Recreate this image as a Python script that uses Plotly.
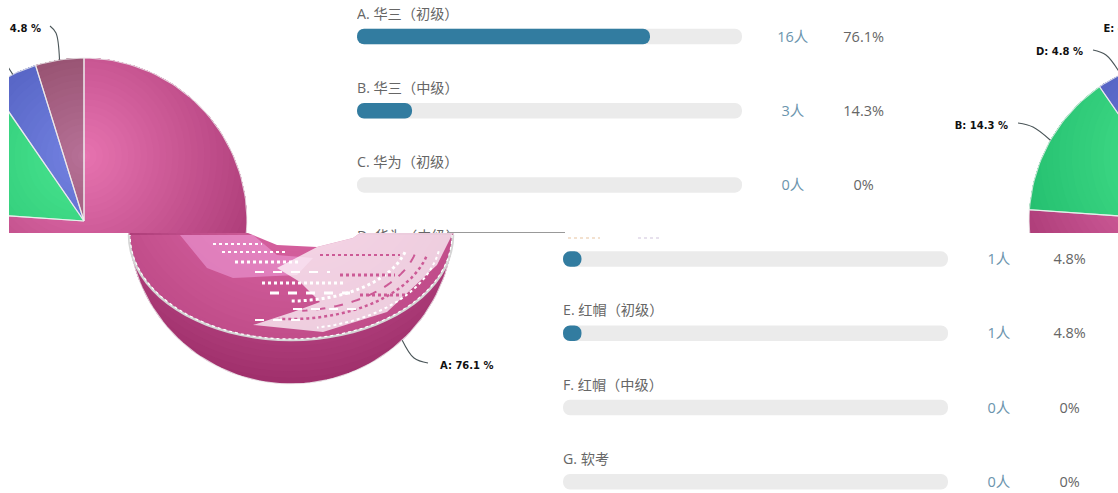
import math
import plotly.graph_objects as go

# ---- data ----
slice_names = ["A", "B", "D", "E"]
slice_values = [76.1, 14.3, 4.8, 4.8]
slice_center_colors = ["#e874b1", "#4be690", "#7584e3", "#b87298"]
slice_edge_colors = ["#a0306c", "#19b466", "#3946a7", "#722f47"]

row_letters = ["A", "B", "C", "D", "E", "F", "G"]
row_names = ["华三（初级）", "华三（中级）", "华为（初级）", "华为（中级）", "红帽（初级）", "红帽（中级）", "软考"]
row_counts = [16, 3, 0, 1, 1, 0, 0]
row_percents = [76.1, 14.3, 0, 4.8, 4.8, 0, 0]

# ---- page geometry (pixels) ----
W, H, BAND = 1118, 493, 233
PIE_X, PIE_Y, PIE_R = 291, 221, 163
GRAD_X, GRAD_Y, GRAD_R = 291, 156, 228
ROW_Y0, ROW_STEP = 36.5, 74.2
BAR_PX = 3.85
BAR_H = 15.5

# connector bends and label anchors, relative to the page before the wrap
label_mid = [(414, 358), (132, 127), (205, 55), (263, 33)]
label_end = [(428, 363), (117, 123), (192, 50), (257, 26)]
label_pos = [(440, 366), (107, 126), (182, 52), (248, 29)]
label_side = ["middle right", "middle left", "middle left", "middle left"]

fig = go.Figure()
layout = {}


def add_axes(n, sx0, sx1, sy0, sy1, xr, yr):
    sfx = "" if n == 1 else str(n)
    layout[f"xaxis{sfx}"] = dict(domain=[sx0 / W, sx1 / W], range=xr, visible=False,
                                 fixedrange=True, anchor=f"y{sfx}")
    layout[f"yaxis{sfx}"] = dict(domain=[1 - sy1 / H, 1 - sy0 / H], range=yr, visible=False,
                                 fixedrange=True, anchor=f"x{sfx}")


# three views of the same page: shifted top band, its wrapped end, and the bottom band
pie_panels = [
    (1, 9, 901, 0, BAND, [216, 1108], [BAND, 0]),
    (2, 901, W, 0, BAND, [0, 217], [BAND, 0]),
    (3, 0, W, BAND, H, [0, W], [H, BAND]),
]
for p in pie_panels:
    add_axes(*p)


def pt(a, r=PIE_R):
    t = math.radians(a)
    return (PIE_X + r * math.sin(t), PIE_Y - r * math.cos(t))


def sector(a0, a1):
    n = max(3, int((a1 - a0) / 2))
    return [(PIE_X, PIE_Y)] + [pt(a0 + (a1 - a0) * i / n) for i in range(n + 1)]


def clip(subject, poly):
    area = sum(poly[i][0] * poly[(i + 1) % len(poly)][1] - poly[(i + 1) % len(poly)][0] * poly[i][1]
               for i in range(len(poly)))
    sgn = 1 if area > 0 else -1
    out = subject
    for i in range(len(poly)):
        ax, ay = poly[i]
        bx, by = poly[(i + 1) % len(poly)]
        if abs(ax - bx) + abs(ay - by) < 1e-9:
            continue
        side = lambda q: sgn * ((bx - ax) * (q[1] - ay) - (by - ay) * (q[0] - ax))
        res = []
        for j in range(len(out)):
            c, d = out[j], out[(j + 1) % len(out)]
            sc, sd = side(c), side(d)
            if sc >= 0:
                res.append(c)
            if (sc >= 0) != (sd >= 0):
                u = sc / (sc - sd)
                res.append((c[0] + u * (d[0] - c[0]), c[1] + u * (d[1] - c[1])))
        out = res
        if not out:
            break
    return out


def mix(c0, c1, t):
    a = [int(c0[i:i + 2], 16) for i in (1, 3, 5)]
    b = [int(c1[i:i + 2], 16) for i in (1, 3, 5)]
    return "rgb(%d,%d,%d)" % tuple(round(a[i] + (b[i] - a[i]) * t) for i in range(3))


# slice angles from the values
total = sum(slice_values)
angles = []
acc = 0
for v in slice_values:
    angles.append((acc / total * 360, (acc + v) / total * 360))
    acc += v

# ring polygons per slice: one radial gradient shared by the whole pie
STEPS = 36
slice_layers = []
for k, (a0, a1) in enumerate(angles):
    parts = []
    nparts = math.ceil((a1 - a0) / 170)
    for i in range(nparts):
        s0 = a0 + (a1 - a0) * i / nparts
        s1 = a0 + (a1 - a0) * (i + 1) / nparts
        parts.append(sector(max(a0, s0 - 0.3), s1))
    outline = sector(a0, a1)
    layers = []
    for s in range(STEPS, -1, -1):
        t = s / STEPS
        color = mix(slice_center_colors[k], slice_edge_colors[k], t)
        lx, ly = [], []
        for part in parts:
            if s == STEPS:
                poly = part
            else:
                rt = max(t, 0.015)
                ell = [(GRAD_X + GRAD_R * rt * math.cos(i * math.pi / 40),
                        GRAD_Y + GRAD_R * rt * math.sin(i * math.pi / 40)) for i in range(80)]
                poly = clip(ell, part)
            if poly:
                lx += [q[0] for q in poly] + [poly[0][0], None]
                ly += [q[1] for q in poly] + [poly[0][1], None]
        if lx:
            layers.append((lx, ly, color))
    slice_layers.append((layers, outline))

for p in pie_panels:
    n = "" if p[0] == 1 else str(p[0])
    ax = dict(xaxis=f"x{n}", yaxis=f"y{n}", hoverinfo="skip", showlegend=False)
    for layers, outline in slice_layers:
        for lx, ly, color in layers:
            fig.add_trace(go.Scatter(x=lx, y=ly, mode="lines", fill="toself", fillcolor=color,
                                     line=dict(width=0), **ax))
    for layers, outline in slice_layers:
        fig.add_trace(go.Scatter(x=[q[0] for q in outline] + [outline[0][0]],
                                 y=[q[1] for q in outline] + [outline[0][1]], mode="lines",
                                 line=dict(color="rgba(240,240,240,0.8)", width=1.2), **ax))
    for k, name in enumerate(slice_names):
        a0, a1 = angles[k]
        e = pt((a0 + a1) / 2)
        fig.add_trace(go.Scatter(x=[e[0], label_mid[k][0], label_end[k][0]],
                                 y=[e[1], label_mid[k][1], label_end[k][1]], mode="lines",
                                 line=dict(color="#4a5558", width=1.1, shape="spline"), **ax))
        fig.add_trace(go.Scatter(x=[label_pos[k][0]], y=[label_pos[k][1]], mode="text",
                                 text=[f"{name}: {slice_values[k]} %"], textposition=label_side[k],
                                 textfont=dict(family="DejaVu Sans", size=10, color="#111111", weight="bold"),
                                 **ax))

# bar panels: one axis pair for each band, percent on x, row number on y
def row_y(py):
    return (py - ROW_Y0) / ROW_STEP


add_axes(4, 357, 357 + 150 * BAR_PX, 0, BAND, [0, 150], [row_y(BAND), row_y(0)])
add_axes(5, 563, W, BAND, H, [0, (W - 563) / BAR_PX], [row_y(H), row_y(BAND)])


def round_bar(values, ys, color, ax):
    # a non-zero base makes plotly round both ends of the bar
    eps = 0.01
    fig.add_trace(go.Bar(x=[v - eps for v in values], base=[eps] * len(values), y=ys, orientation="h",
                         width=BAR_H / ROW_STEP,
                         marker=dict(color=color, cornerradius=8, line=dict(width=0)), **ax))


rows = list(range(len(row_letters)))
filled = [r for r in rows if row_percents[r] > 0]
TEXT_DY = 1.5 / ROW_STEP
font = "Open Sans, Noto Sans CJK SC"
for n, label_rows in (("4", rows[:4]), ("5", rows[4:])):
    ax = dict(xaxis=f"x{n}", yaxis=f"y{n}", hoverinfo="skip", showlegend=False)
    round_bar([100] * len(rows), rows, "#ebebeb", ax)
    round_bar([row_percents[r] for r in filled], filled, "#327ca0", ax)
    fig.add_trace(go.Scatter(x=[0] * len(label_rows), y=[r - 21.5 / ROW_STEP for r in label_rows],
                             mode="text", textposition="middle right",
                             text=[f"{row_letters[r]}. {row_names[r]}" for r in label_rows],
                             textfont=dict(family=font, size=14.2, color="#666666"), **ax))
    fig.add_trace(go.Scatter(x=[113.2] * len(rows), y=[r + TEXT_DY for r in rows], mode="text",
                             textposition="middle center", text=[f"{c}人" for c in row_counts],
                             textfont=dict(family=font, size=14.5, color="#6b94ad"), **ax))
    fig.add_trace(go.Scatter(x=[131.6] * len(rows), y=[r + TEXT_DY for r in rows], mode="text",
                             textposition="middle center", text=[f"{v}%" for v in row_percents],
                             textfont=dict(family=font, size=14.5, color="#666666"), **ax))

# tear artefacts drawn on a page-pixel overlay axis
add_axes(6, 0, W, 0, H, [0, W], [H, 0])
fig.add_trace(go.Scatter(x=[0], y=[0], mode="markers", marker=dict(opacity=0), xaxis="x6", yaxis="y6",
                         hoverinfo="skip", showlegend=False))


def ell_path(rx, ry, d0, d1, cx=291, cy=235):
    return "M " + " L ".join(
        f"{cx + rx * math.cos(math.radians(d0 + (d1 - d0) * i / 40)):.1f},"
        f"{cy + ry * math.sin(math.radians(d0 + (d1 - d0) * i / 40)):.1f}" for i in range(41))


def poly_path(points):
    return "M " + " L ".join(f"{x},{y}" for x, y in points) + " Z"


def art(path, fill=None, color=None, width=0, dash=None):
    d = dict(type="path", xref="x6", yref="y6", path=path, layer="above",
             line=dict(color=color or "rgba(0,0,0,0)", width=width, dash=dash or "solid"))
    if fill:
        d["fillcolor"] = fill
    return d


def streak(x0, x1, y, width=2, dash="dot", color="#ffffff"):
    return dict(type="line", xref="x6", yref="y6", x0=x0, x1=x1, y0=y, y1=y, layer="above",
                line=dict(color=color, width=width, dash=dash))


shapes = [
    art(ell_path(161, 104, 0, 180) + " Z", fill="rgba(226,104,168,0.4)"),
    art(poly_path([(180, 235), (253, 235), (277, 255), (313, 258), (297, 275), (233, 278), (207, 268)]),
        fill="rgba(240,160,220,0.55)"),
    art(poly_path([(317, 247), (353, 238), (360, 233), (453, 233), (437, 265), (387, 312), (323, 332),
                   (253, 325), (293, 312), (320, 302), (300, 282), (277, 268)]),
        fill="rgba(255,255,255,0.72)"),
    art(poly_path([(248, 233), (277, 245), (317, 247), (353, 238), (360, 233)]), fill="#ffffff"),
    art(ell_path(140, 84, 15, 95), color="#cc5a96", width=2.5, dash="dot"),
    art(ell_path(118, 66, 15, 90), color="#ffffff", width=3, dash="dot"),
    art(ell_path(128, 76, 15, 85), color="#cc5a96", width=2, dash="dash"),
    art(ell_path(150, 94, 10, 80), color="#ffffff", width=2, dash="dot"),
    streak(213, 262, 244, 2, "dot"), streak(222, 285, 252, 2, "dot"), streak(235, 300, 262, 3, "dot"),
    streak(255, 330, 272, 2, "dash"), streak(262, 345, 283, 3, "dot"), streak(270, 350, 293, 3, "dash"),
    streak(293, 360, 309, 2, "dash"), streak(255, 300, 320, 2, "dash"),
    streak(320, 400, 255, 2, "dot", "#cc5a96"), streak(340, 395, 275, 3, "dot", "#cc5a96"),
    streak(360, 405, 295, 3, "dot", "#cc5a96"),
    art(ell_path(162, 105, 0, 180), color="#d5d5d5", width=2.5),
    art(ell_path(161, 104, 0, 180), color="#ffffff", width=1.2, dash="dot"),
    streak(447, 565, 232.5, 1, "solid", "#999999"),
    streak(568, 600, 238, 1.5, "dot", "#f0d8c0"), streak(638, 660, 238, 1.5, "dot", "#e0d8e8"),
]

fig.update_layout(width=W, height=H, margin=dict(l=0, r=0, t=0, b=0), autosize=False,
                  paper_bgcolor="#ffffff", plot_bgcolor="rgba(0,0,0,0)", barmode="overlay",
                  showlegend=False, shapes=shapes, **layout)
fig.write_html("out.html", config={"displayModeBar": False},
               post_script="document.body.style.margin='0';")
